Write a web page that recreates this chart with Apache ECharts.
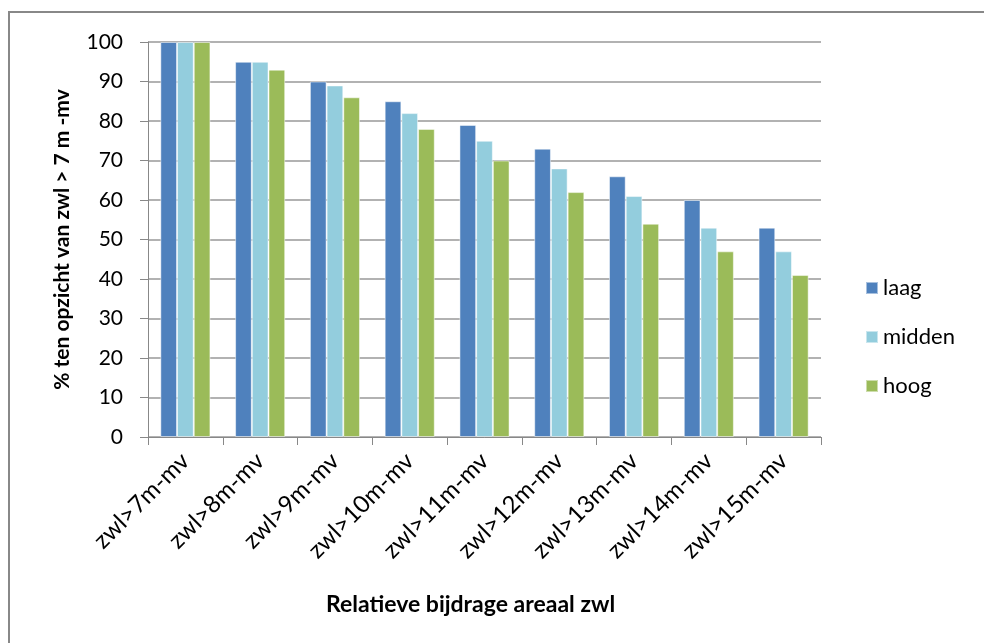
<!DOCTYPE html>
<html>
<head>
<meta charset="utf-8">
<script src="https://cdn.jsdelivr.net/npm/echarts@6/dist/echarts.min.js"></script>
<style>
html,body{margin:0;padding:0;background:#fff;overflow:hidden;}
#frame{position:absolute;left:8px;top:11px;width:1000px;height:700px;border-top:2px solid #888;border-left:2px solid #888;box-sizing:border-box;}
#chart{position:absolute;left:0;top:0;width:984px;height:643px;}
</style>
</head>
<body>
<div id="frame"></div>
<div id="chart"></div>
<script>
var categories = ["zwl>7m-mv","zwl>8m-mv","zwl>9m-mv","zwl>10m-mv","zwl>11m-mv","zwl>12m-mv","zwl>13m-mv","zwl>14m-mv","zwl>15m-mv"];
var laag   = [100, 95, 90, 85, 79, 73, 66, 60, 53];
var midden = [100, 95, 89, 82, 75, 68, 61, 53, 47];
var hoog   = [100, 93, 86, 78, 70, 62, 54, 47, 41];
var yTicks = [0,10,20,30,40,50,60,70,80,90,100];

var font = "Lato, 'Open Sans', sans-serif";
var chart = echarts.init(document.getElementById('chart'));
function bar(name, data, color){
  return {name:name, type:'bar', data:data, barGap:'0%', barCategoryGap:'33%',
    itemStyle:{color:color, borderColor:'rgba(255,255,255,0.5)', borderWidth:1}, animation:false};
}
chart.setOption({
  animation:false,
  grid:{left:148, top:42, right:163, bottom:206, containLabel:false},
  legend:{orient:'vertical', left:860, top:272, itemWidth:12, itemHeight:12, itemGap:27,
    icon:'rect', textStyle:{fontFamily:font, fontSize:22, lineHeight:22, color:'#000'},
    data:['laag','midden','hoog']},
  xAxis:{type:'category', data:categories,
    name:'Relatieve bijdrage areaal zwl', nameLocation:'middle', nameGap:156,
    nameTextStyle:{fontFamily:font, fontSize:23, fontWeight:'bold', color:'#000', padding:[0,28,0,0]},
    axisLine:{lineStyle:{color:'#888', width:1}},
    axisTick:{show:true, alignWithLabel:false, length:8, lineStyle:{color:'#888'}},
    axisLabel:{rotate:45, interval:0, fontFamily:font, fontSize:24, color:'#000', margin:20}},
  yAxis:{type:'value', min:0, max:100, interval:10,
    name:'% ten opzicht van zwl > 7 m -mv', nameLocation:'middle', nameGap:75, nameRotate:90,
    nameTextStyle:{fontFamily:font, fontSize:21, fontWeight:'bold', color:'#000'},
    axisLine:{show:true, lineStyle:{color:'#888'}},
    axisTick:{show:true, length:8, lineStyle:{color:'#888'}},
    splitLine:{lineStyle:{color:'#999', width:1.5}},
    axisLabel:{fontFamily:font, fontSize:21, color:'#000', margin:25,
      formatter:function(v){return yTicks.indexOf(v)>=0 ? String(v) : '';}}},
  series:[bar('laag', laag, '#4F81BD'), bar('midden', midden, '#93CDDD'), bar('hoog', hoog, '#9BBB59')]
});
</script>
</body>
</html>
